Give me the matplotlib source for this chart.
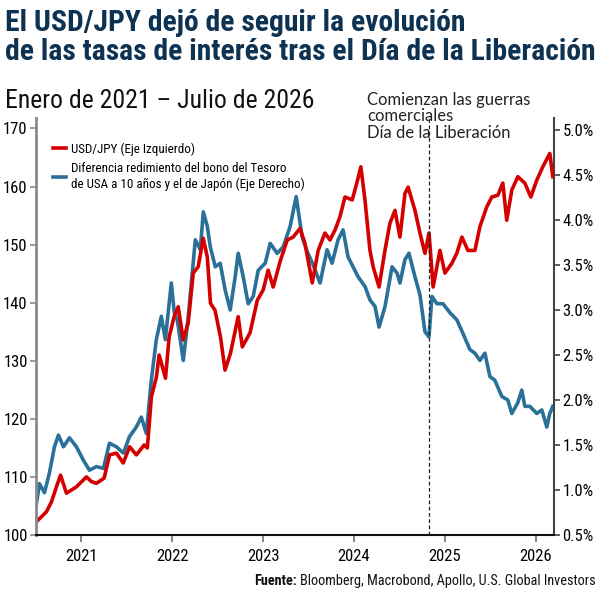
import matplotlib
matplotlib.use("Agg")
import matplotlib.pyplot as plt
from matplotlib import font_manager
from matplotlib.ticker import FuncFormatter

# fechas en años decimales
usdjpy_t = [2020.505, 2020.615, 2020.67, 2020.725, 2020.77, 2020.835, 2020.945, 2021.055,
            2021.11, 2021.165, 2021.25, 2021.31, 2021.385, 2021.46, 2021.53, 2021.605,
            2021.69, 2021.725, 2021.77, 2021.825, 2021.855, 2021.925, 2021.965, 2022.02,
            2022.065, 2022.12, 2022.175, 2022.23, 2022.285, 2022.34, 2022.385, 2022.42,
            2022.47, 2022.53, 2022.58, 2022.64, 2022.725, 2022.77, 2022.855, 2022.935,
            2023.0, 2023.055, 2023.11, 2023.19, 2023.265, 2023.33, 2023.405, 2023.46,
            2023.54, 2023.605, 2023.68, 2023.735, 2023.79, 2023.845, 2023.9, 2023.98,
            2024.03, 2024.075, 2024.12, 2024.175, 2024.21, 2024.275, 2024.34, 2024.395,
            2024.45, 2024.505, 2024.56, 2024.595, 2024.67, 2024.725, 2024.78, 2024.825,
            2024.87, 2024.945, 2025.0, 2025.077, 2025.13, 2025.187, 2025.253, 2025.33,
            2025.385, 2025.46, 2025.516, 2025.582, 2025.637, 2025.68, 2025.736, 2025.802,
            2025.879, 2025.945, 2026.011, 2026.077, 2026.154, 2026.187]
usdjpy = [102.3, 104.0, 105.7, 108.3, 110.3, 107.2, 108.3, 110.0,
          109.2, 108.9, 109.8, 113.8, 114.1, 112.4, 115.2, 113.8,
          115.5, 115.0, 123.8, 127.2, 131.0, 127.0, 134.1, 137.6,
          139.3, 133.6, 136.5, 145.1, 146.2, 151.1, 147.9, 139.9,
          138.7, 134.1, 128.4, 131.3, 137.6, 132.4, 134.8, 140.4,
          142.2, 145.6, 142.7, 147.3, 150.8, 151.3, 152.8, 150.2,
          143.4, 149.0, 152.0, 150.8, 152.5, 154.8, 158.2, 157.7,
          160.6, 163.4, 157.7, 149.0, 146.2, 142.7, 149.0, 153.7,
          155.9, 151.3, 158.8, 159.9, 155.9, 152.0, 148.5, 152.0,
          142.7, 149.0, 145.1, 146.8, 148.5, 151.3, 149.0, 149.0,
          153.1, 156.5, 158.2, 158.5, 160.6, 154.2, 159.4, 161.7,
          160.6, 158.2, 161.1, 163.4, 165.7, 161.7]

spread_t = [2020.505, 2020.538, 2020.593, 2020.648, 2020.703, 2020.747, 2020.802, 2020.868,
            2020.945, 2021.022, 2021.088, 2021.165, 2021.242, 2021.308, 2021.385, 2021.462,
            2021.527, 2021.604, 2021.659, 2021.714, 2021.769, 2021.824, 2021.879, 2021.923,
            2021.989, 2022.022, 2022.055, 2022.121, 2022.176, 2022.253, 2022.308, 2022.341,
            2022.385, 2022.418, 2022.473, 2022.527, 2022.582, 2022.637, 2022.692, 2022.725,
            2022.78, 2022.835, 2022.89, 2022.945, 2023.022, 2023.077, 2023.154, 2023.22,
            2023.297, 2023.363, 2023.429, 2023.484, 2023.55, 2023.626, 2023.703, 2023.758,
            2023.824, 2023.879, 2023.934, 2023.989, 2024.044, 2024.121, 2024.176, 2024.231,
            2024.275, 2024.341, 2024.418, 2024.473, 2024.505, 2024.56, 2024.604, 2024.67,
            2024.725, 2024.78, 2024.824, 2024.857, 2024.912, 2024.978, 2025.055, 2025.132,
            2025.198, 2025.275, 2025.33, 2025.385, 2025.44, 2025.495, 2025.549, 2025.626,
            2025.692, 2025.736, 2025.802, 2025.846, 2025.879, 2025.934, 2026.011, 2026.066,
            2026.121, 2026.154, 2026.187]
spread = [0.85, 1.07, 0.97, 1.19, 1.48, 1.61, 1.48, 1.58,
          1.48, 1.33, 1.22, 1.26, 1.24, 1.52, 1.48, 1.41,
          1.59, 1.70, 1.81, 1.63, 2.22, 2.67, 2.93, 2.67,
          3.30, 2.97, 2.89, 2.44, 2.93, 3.78, 3.67, 4.09,
          3.93, 3.70, 3.48, 3.52, 3.22, 3.00, 3.37, 3.63,
          3.37, 3.07, 3.15, 3.44, 3.52, 3.74, 3.63, 3.70,
          3.93, 4.26, 3.81, 3.65, 3.50, 3.30, 3.67, 3.52,
          3.78, 3.89, 3.59, 3.48, 3.37, 3.26, 3.11, 3.04,
          2.81, 3.04, 3.48, 3.41, 3.30, 3.56, 3.63, 3.37,
          3.17, 2.76, 2.70, 3.15, 3.07, 3.07, 2.97, 2.89,
          2.74, 2.56, 2.52, 2.44, 2.52, 2.26, 2.22, 2.04,
          2.00, 1.85, 1.97, 2.11, 1.93, 1.93, 1.85, 1.89,
          1.70, 1.85, 1.93]

year_ticks = [2021, 2022, 2023, 2024, 2025, 2026]
left_ticks = [100, 110, 120, 130, 140, 150, 160, 170]
right_ticks = [0.5, 1.0, 1.5, 2.0, 2.5, 3.0, 3.5, 4.0, 4.5, 5.0]
liberation_day = 2024.83

RED = "#d40000"
BLUE = "#2a7099"
NAVY = "#0e3352"

# buscar una fuente estrecha parecida a la del original
names = {f.name for f in font_manager.fontManager.ttflist}
narrow = next((n for n in ["Liberation Sans Narrow", "Roboto Condensed", "Open Sans Condensed"]
               if n in names), "Liberation Sans")
plt.rcParams["font.family"] = [narrow, "DejaVu Sans"]

fig = plt.figure(figsize=(6, 6), dpi=100)
ax = fig.add_axes([0.06, 0.1083, 0.8633, 0.695])
ax2 = ax.twinx()

l2, = ax2.plot(spread_t, spread, color=BLUE, lw=2.6, solid_joinstyle="round",
               label="Diferencia redimiento del bono del Tesoro\nde USA a 10 años y el de Japón (Eje Derecho)")
l1, = ax.plot(usdjpy_t, usdjpy, color=RED, lw=2.6, solid_joinstyle="round",
              label="USD/JPY (Eje Izquierdo)")
ax.set_zorder(ax2.get_zorder() + 1)
ax.patch.set_visible(False)

ax.axvline(liberation_day, color="#222222", lw=0.9, ls=(0, (3, 2)))

ax.set_xlim(2020.5, 2026.2)
ax.set_ylim(100, 171.8)
ax2.set_ylim(0.5, 5.133)
ax.set_xticks(year_ticks)
ax.set_xticklabels([str(y) for y in year_ticks])
ax.set_yticks(left_ticks)
ax2.set_yticks(right_ticks)
ax2.yaxis.set_major_formatter(FuncFormatter(lambda v, p: f"{v:.1f}%"))

for a in (ax, ax2):
    a.spines["top"].set_visible(False)
ax.spines["right"].set_visible(False)
ax2.spines["left"].set_visible(False)
ax2.spines["bottom"].set_visible(False)
ax.spines["left"].set_color("#8a8a8a")
ax.spines["left"].set_linewidth(2)
ax.spines["bottom"].set_color("#111111")
ax.spines["bottom"].set_linewidth(1.5)
ax2.spines["right"].set_color("#444444")
ax2.spines["right"].set_linewidth(1.5)

ax.tick_params(axis="y", length=4, width=1.2, color="#8a8a8a", labelsize=12, pad=2)
ax.tick_params(axis="x", length=5, width=1.5, color="#8a8a8a", labelsize=12, pad=5)
ax2.tick_params(axis="y", length=4, width=1.2, color="#444444", labelsize=12, pad=2)

ax.legend(handles=[l1, l2], loc="upper left", bbox_to_anchor=(0.01, 0.97), frameon=False,
          fontsize=9.4, handlelength=1.0, handletextpad=0.4, labelspacing=0.5)

fig.text(0.008, 0.985, "El USD/JPY dejó de seguir la evolución\nde las tasas de interés tras el Día de la Liberación",
         ha="left", va="top", fontsize=21.3, fontweight="bold", color=NAVY, linespacing=1.05)
fig.text(0.008, 0.832, "Enero de 2021 – Julio de 2026", ha="left", va="center",
         fontsize=18.5, color="#111111")
fig.text(0.612, 0.847, "Comienzan las guerras\ncomerciales\nDía de la Liberación", ha="left", va="top",
         fontsize=12, color="#222222", linespacing=1.05, family=["Lato", "DejaVu Sans"])

fig.text(0.992, 0.02, "Bloomberg, Macrobond, Apollo, U.S. Global Investors", ha="right", va="bottom",
         fontsize=10.3, color="#111111")
fig.canvas.draw()
r = fig.canvas.get_renderer()
w = fig.texts[-1].get_window_extent(r).width / fig.bbox.width
fig.text(0.992 - w - 0.004, 0.02, "Fuente:", ha="right", va="bottom", fontsize=10.3,
         fontweight="bold", color="#111111")

fig.savefig("out.png", dpi=100)
